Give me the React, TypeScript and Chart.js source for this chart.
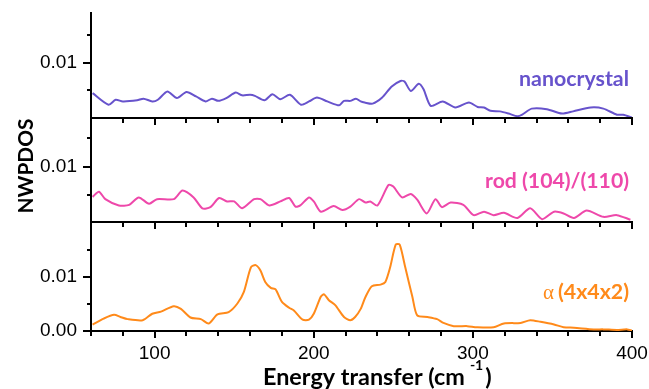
import React, { useEffect, useRef } from 'react';
import { Chart, registerables } from 'chart.js';

Chart.register(...registerables);

// ---------- data ----------
const X_MIN = 60;
const X_MAX = 400;
const xMajorTicks = [100, 200, 300, 400];
const xMinorStep = 20;

const panelNames = ['nanocrystal', 'rod (104)/(110)', 'α (4x4x2)'];
const panelColors = ['#6753cc', '#ee48aa', '#ff8a1a'];
const panelMin = [0, 0.0003, 0];
const panelMax = [0.019, 0.0185, 0.0202];
const panelWeights = [105, 104, 109];
const panelTickValues = [
  [0.005, 0.01, 0.015],
  [0.005, 0.01, 0.015],
  [0, 0.005, 0.01, 0.015],
];
const yTickLabels: Record<string, string> = { '0': '0.00', '0.01': '0.01' };
const labelValues = [0.0058, 0.0063, 0.006];

const nanocrystal: [number, number][] = [
  [61, 0.0045], [71, 0.0024], [75.5, 0.0033], [80, 0.003], [89, 0.0032], [93, 0.0035],
  [98.5, 0.003], [102, 0.0033], [108, 0.0048], [114, 0.0036], [120, 0.0047], [126, 0.0039],
  [132, 0.003], [136, 0.0035], [140, 0.0031], [145, 0.0036], [151, 0.0046], [155, 0.0041],
  [160, 0.0042], [163, 0.004], [169, 0.0032], [174, 0.0043], [179, 0.0034], [185, 0.0042],
  [192, 0.0024], [197, 0.003], [202, 0.0037], [208.5, 0.003], [216, 0.0023], [219, 0.0031],
  [223, 0.0031], [226.5, 0.0035], [229.5, 0.003], [232, 0.0028], [237, 0.0026], [243, 0.0037],
  [249, 0.0057], [254.5, 0.0067], [257, 0.0066], [261, 0.0049], [266, 0.0062], [269, 0.0052],
  [273.5, 0.0022], [281, 0.003], [289, 0.0019], [297.5, 0.0028], [303, 0.002], [307, 0.0019],
  [311, 0.0013], [317, 0.0012], [322.5, 0.0008], [328, 0.0003], [331, 0.0006], [337, 0.0017],
  [346.5, 0.0016], [356, 0.0008], [363, 0.0012], [374, 0.0019], [382, 0.0017], [390.5, 0.0006],
  [394.5, 0.0006], [400, 0.0001],
];

const rod: [number, number][] = [
  [61, 0.0047], [65, 0.0056], [69, 0.0043], [77.5, 0.0032], [84, 0.0033], [90, 0.0046],
  [96.5, 0.0035], [101.5, 0.0043], [112, 0.0043], [117.5, 0.0058], [124.5, 0.0046], [130, 0.0027],
  [135, 0.0029], [140.5, 0.0045], [145.5, 0.0039], [150, 0.0039], [155, 0.0027], [162.5, 0.0043],
  [166.5, 0.0043], [172, 0.0032], [179, 0.0039], [184.5, 0.0045], [188.5, 0.003], [191.5, 0.0032],
  [197, 0.0046], [200, 0.0039], [204.5, 0.0021], [212.5, 0.0031], [218, 0.0024], [223, 0.003],
  [228.5, 0.0043], [232.5, 0.0037], [235.5, 0.0039], [240, 0.0032], [247, 0.0068], [250, 0.0065],
  [255.5, 0.0046], [261, 0.0052], [265, 0.0042], [271, 0.0018], [276.5, 0.0043], [280.5, 0.0029],
  [286, 0.0037], [294, 0.0033], [300.5, 0.0015], [307, 0.0021], [313, 0.0015], [319.5, 0.0019],
  [328, 0.001], [336, 0.0027], [343.5, 0.0008], [351, 0.0021], [357, 0.0018], [363.5, 0.001],
  [371.5, 0.0023], [382, 0.0012], [390.5, 0.0015], [399, 0.0007],
];

const alpha: [number, number][] = [
  [61, 0.0012], [68, 0.0023], [74.5, 0.003], [78.5, 0.0026], [83, 0.0022], [92.5, 0.002],
  [98.5, 0.0032], [104, 0.0036], [112, 0.0046], [116.5, 0.0041], [122.5, 0.0025], [129, 0.0022],
  [134, 0.0014], [139.5, 0.0031], [146.5, 0.0035], [152, 0.0051], [156, 0.0072], [160.5, 0.0118],
  [163.5, 0.0122], [166.5, 0.0112], [169.5, 0.0091], [173, 0.008], [176, 0.0077], [180, 0.0054],
  [184.5, 0.0043], [187.5, 0.0038], [193, 0.0021], [197, 0.0021], [200, 0.0032], [204.5, 0.0064],
  [206.5, 0.0068], [209.5, 0.0057], [213.5, 0.0048], [219, 0.0026], [223, 0.002], [226, 0.0026],
  [229.5, 0.0041], [232.5, 0.0063], [236.5, 0.0083], [242, 0.0086], [245, 0.0091], [248, 0.0118],
  [251.5, 0.016], [254, 0.016], [257.5, 0.0118], [262, 0.0063], [265, 0.0029], [271.5, 0.0026],
  [277.5, 0.0022], [281.5, 0.0015], [288, 0.0009], [296.5, 0.0009], [302.5, 0.0007], [313, 0.0007],
  [319.5, 0.0014], [330, 0.0015], [336, 0.002], [342.5, 0.0017], [351, 0.0012], [357, 0.0007],
  [363.5, 0.0006], [376, 0.0003], [382, 0.0003], [390.5, 0.0002], [397, 0.0003], [400, 0.0001],
];

const seriesData = [nanocrystal, rod, alpha];
const yAxisTitle = 'NWPDOS';
const xAxisTitle = 'Energy transfer (cm';
const xAxisSup = '-1';
const panelIds = ['yTop', 'yMid', 'yBot'];

// ---------- helpers ----------
function fitSize(ctx: CanvasRenderingContext2D, text: string, width: number, family: string, weight: string) {
  ctx.font = `${weight} 100px ${family}`;
  const w = ctx.measureText(text).width;
  return (100 * width) / w;
}

const TITLE_FONT = 'Lato, "Open Sans", sans-serif';

const overlayPlugin = {
  id: 'overlay',
  afterDraw(chart: any) {
    const ctx: CanvasRenderingContext2D = chart.ctx;
    const xs = chart.scales.x;
    const panels = panelIds.map((id) => chart.scales[id]);
    ctx.save();
    ctx.strokeStyle = '#000';
    ctx.lineWidth = 2;
    ctx.lineCap = 'butt';

    // separators between panels
    for (let i = 0; i < panels.length - 1; i++) {
      const y = panels[i].bottom;
      ctx.beginPath();
      ctx.moveTo(xs.left - 1, y);
      ctx.lineTo(xs.right + 1, y);
      ctx.stroke();
    }
    // x ticks (outward/downward) under every panel
    for (const p of panels) {
      for (let v = X_MIN; v <= X_MAX; v += xMinorStep) {
        const px = Math.round(xs.getPixelForValue(v));
        const len = xMajorTicks.includes(v) ? 7 : 5;
        ctx.beginPath();
        ctx.moveTo(px, p.bottom);
        ctx.lineTo(px, p.bottom + len);
        ctx.stroke();
      }
    }
    // y ticks (outward/left)
    panels.forEach((p: any, i: number) => {
      for (const v of panelTickValues[i]) {
        const py = Math.round(p.getPixelForValue(v));
        const len = yTickLabels[String(v)] ? 8 : 4;
        ctx.beginPath();
        ctx.moveTo(xs.left - len, py);
        ctx.lineTo(xs.left, py);
        ctx.stroke();
      }
    });

    // series labels
    const rightX = xs.right - 3;
    panels.forEach((p: any, i: number) => {
      const y = p.getPixelForValue(labelValues[i]);
      ctx.fillStyle = panelColors[i];
      ctx.textBaseline = 'alphabetic';
      ctx.textAlign = 'right';
      if (i < 2) {
        const size = fitSize(ctx, panelNames[i], i === 0 ? 110 : 144, TITLE_FONT, 'bold');
        ctx.font = `bold ${size}px ${TITLE_FONT}`;
        ctx.fillText(panelNames[i], rightX, y);
      } else {
        const rest = panelNames[i].slice(2);
        const size = fitSize(ctx, rest, 71, TITLE_FONT, 'bold');
        ctx.font = `bold ${size}px ${TITLE_FONT}`;
        const w = ctx.measureText(rest).width;
        ctx.fillText(rest, rightX, y);
        ctx.font = `normal 21px "Liberation Serif", "DejaVu Serif", serif`;
        ctx.fillText(panelNames[i].slice(0, 1), rightX - w - 4, y);
      }
    });

    // y axis title
    ctx.fillStyle = '#000';
    const ySize = fitSize(ctx, yAxisTitle, 95, TITLE_FONT, 'bold');
    ctx.save();
    ctx.translate(26, 166);
    ctx.rotate(-Math.PI / 2);
    ctx.font = `bold ${ySize}px ${TITLE_FONT}`;
    ctx.textAlign = 'center';
    ctx.textBaseline = 'middle';
    ctx.fillText(yAxisTitle, 0, 0);
    ctx.restore();

    // x axis title with superscript
    const xSize = fitSize(ctx, xAxisTitle, 202, TITLE_FONT, 'bold');
    ctx.font = `bold ${xSize}px ${TITLE_FONT}`;
    ctx.textAlign = 'left';
    ctx.textBaseline = 'alphabetic';
    const x0 = 263;
    const base = 385;
    ctx.fillText(xAxisTitle, x0, base);
    let x1 = x0 + ctx.measureText(xAxisTitle).width + 5;
    ctx.font = `bold ${xSize * 0.6}px ${TITLE_FONT}`;
    ctx.fillText(xAxisSup, x1, base - 15);
    x1 += ctx.measureText(xAxisSup).width + 2;
    ctx.font = `bold ${xSize}px ${TITLE_FONT}`;
    ctx.fillText(')', x1, base);
    ctx.restore();
  },
};

const zeroPadding = (s: any) => {
  s.paddingTop = 0;
  s.paddingBottom = 0;
  s.paddingLeft = 0;
  s.paddingRight = 0;
};

export default function App() {
  const ref = useRef<HTMLCanvasElement | null>(null);

  useEffect(() => {
    if (!ref.current) return;
    const tickFont = { family: '"Liberation Sans", Arial, sans-serif', size: 19 };

    const makeY = (i: number) => ({
      type: 'linear' as const,
      position: 'left' as const,
      stack: 'panels',
      stackWeight: panelWeights[i],
      min: panelMin[i],
      max: panelMax[i],
      grid: { display: false, drawTicks: false },
      border: { display: true, color: '#000', width: 2 },
      ticks: {
        color: '#000',
        font: tickFont,
        padding: 14,
        callback: (v: any) => yTickLabels[String(v)] ?? '',
      },
      afterBuildTicks: (s: any) => {
        s.ticks = panelTickValues[i].map((value) => ({ value }));
      },
      afterFit: (s: any) => {
        s.width = 91;
        zeroPadding(s);
      },
    });

    const chart = new Chart(ref.current, {
      type: 'line',
      data: {
        datasets: seriesData.map((d, i) => ({
          label: panelNames[i],
          data: d.map(([x, y]) => ({ x, y })),
          borderColor: panelColors[i],
          backgroundColor: panelColors[i],
          borderWidth: 2,
          pointRadius: 0,
          tension: 0.25,
          yAxisID: panelIds[i],
          xAxisID: 'x',
        })),
      },
      options: {
        animation: false,
        responsive: false,
        devicePixelRatio: 1,
        layout: { padding: { top: 13, right: 17, left: 0, bottom: 0 } },
        plugins: { legend: { display: false }, tooltip: { enabled: false } },
        scales: {
          x: {
            type: 'linear',
            position: 'bottom',
            min: X_MIN,
            max: X_MAX,
            grid: { display: false, drawTicks: false },
            border: { display: true, color: '#000', width: 2 },
            ticks: { color: '#000', font: tickFont, padding: 11, maxRotation: 0 },
            afterBuildTicks: (s: any) => {
              s.ticks = xMajorTicks.map((value) => ({ value }));
            },
            afterFit: (s: any) => {
              s.height = 58;
              zeroPadding(s);
            },
          },
          yBot: makeY(2),
          yMid: makeY(1),
          yTop: makeY(0),
        } as any,
      },
      plugins: [overlayPlugin],
    });
    return () => chart.destroy();
  }, []);

  return (
    <div style={{ position: 'fixed', left: 0, top: 0, width: 649, height: 389, background: '#fff' }}>
      <canvas ref={ref} width={649} height={389} />
    </div>
  );
}
